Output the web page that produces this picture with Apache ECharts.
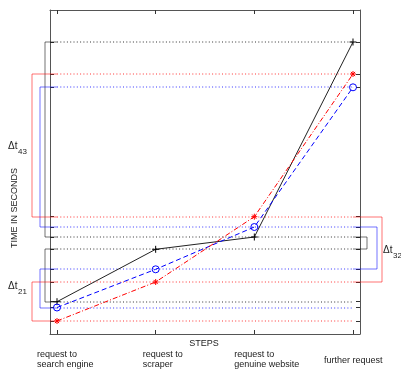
<!DOCTYPE html>
<html>
<head>
<meta charset="utf-8">
<script src="https://cdn.jsdelivr.net/npm/echarts@6/dist/echarts.min.js"></script>
<style>
html, body { margin: 0; padding: 0; background: #fff; }
#chart { width: 401px; height: 369px; }
</style>
</head>
<body>
<div id="chart"></div>
<script>
// steps along the x axis
const steps = ['request to\nsearch engine', 'request to\nscraper', 'request to\ngenuine website', 'further request'];
const stepPos = [1, 2, 3, 4];
// time at each step (no scale on the plot, read as relative height)
const blackTimes = [32.3, 84.7, 97, 292];
const blueTimes = [26.5, 64.7, 107, 246.7];
const redTimes = [13, 52, 117.3, 260];
// brackets: [from step index, to step index, side 0=left 1=right, subscript]
const brackets = [[3, 2, 0, '43'], [1, 0, 0, '21'], [2, 1, 1, '32']];

const times = [blackTimes, blueTimes, redTimes];
const colors = ['#000000', '#0000ff', '#ff0000'];
const leftOff = [5, 10, 18];
const rightOff = [7, 17, 22];
const font = 'Liberation Sans, Arial, sans-serif';

let guides = [];
times.forEach((t, s) => {
    t.forEach((v, i) => guides.push([0, s, i, 0, 0]));
    brackets.forEach(b => guides.push([1, s, b[0], b[1], b[2]]));
});
let allTimes = [].concat(blackTimes, blueTimes, redTimes);

function renderGuide(params, api) {
    let kind = api.value(0), s = api.value(1), a = api.value(2), b = api.value(3), side = api.value(4);
    let cs = params.coordSys;
    let xa = api.coord([stepPos[0], 0])[0];
    let xb = api.coord([stepPos[3], 0])[0];
    if (kind === 0) {
        let y = Math.round(api.coord([1, times[s][a]])[1]);
        return {
            type: 'line',
            shape: { x1: xa, y1: y, x2: xb, y2: y },
            style: { stroke: colors[s], lineWidth: 1, lineDash: [1, 2.3], opacity: 0.8 }
        };
    }
    let y1 = Math.round(api.coord([1, times[s][a]])[1]);
    let y2 = Math.round(api.coord([1, times[s][b]])[1]);
    let x0 = side === 0 ? xa : xb;
    let bx = side === 0 ? cs.x - leftOff[s] : cs.x + cs.width + rightOff[s];
    return {
        type: 'polyline',
        shape: { points: [[x0, y1], [bx, y1], [bx, y2], [x0, y2]] },
        style: { stroke: colors[s], lineWidth: 1, fill: null, opacity: 0.55 }
    };
}

let chart = echarts.init(document.getElementById('chart'));

let frameAxis = {
    type: 'value',
    min: 0.929,
    max: 4.071,
    axisLine: { show: true, onZero: false, lineStyle: { color: '#555', width: 1 } },
    axisTick: { show: true, inside: true, length: 4, customValues: stepPos, lineStyle: { color: '#333' } },
    axisLabel: { show: false },
    splitLine: { show: false }
};
let timeAxis = {
    type: 'value',
    min: 0,
    max: 324,
    axisLine: { show: true, onZero: false, lineStyle: { color: '#555', width: 1 } },
    axisTick: { show: true, inside: true, length: 4, customValues: allTimes, lineStyle: { color: '#333' } },
    axisLabel: { show: false },
    splitLine: { show: false }
};

let option = {
    animation: false,
    backgroundColor: '#fff',
    grid: { left: 50, right: 41, top: 10, bottom: 35 },
    xAxis: [
        Object.assign({ position: 'bottom' }, frameAxis),
        Object.assign({ position: 'top' }, frameAxis)
    ],
    yAxis: [
        Object.assign({ position: 'left' }, timeAxis),
        Object.assign({ position: 'right' }, timeAxis)
    ],
    series: [
        {
            type: 'custom',
            renderItem: renderGuide,
            clip: false,
            silent: true,
            z: 1,
            dimensions: ['kind', 's', 'a', 'b', 'side'],
            encode: { x: 2, y: 3 },
            data: guides
        },
        {
            name: 'black',
            type: 'line',
            z: 3,
            data: stepPos.map((x, i) => [x, blackTimes[i]]),
            symbol: 'path://M5,0L5,10M0,5L10,5',
            symbolSize: 7,
            lineStyle: { color: '#222', width: 1 },
            itemStyle: { color: 'none', borderColor: '#000', borderWidth: 1 }
        },
        {
            name: 'blue',
            type: 'line',
            z: 3,
            data: stepPos.map((x, i) => [x, blueTimes[i]]),
            symbol: 'circle',
            symbolSize: 7,
            lineStyle: { color: '#0000ff', width: 1, type: [5, 3] },
            itemStyle: { color: 'none', borderColor: '#0000ff', borderWidth: 1 }
        },
        {
            name: 'red',
            type: 'line',
            z: 3,
            data: stepPos.map((x, i) => [x, redTimes[i]]),
            symbol: 'path://M5,0L5,10M0,5L10,5M1.5,1.5L8.5,8.5M8.5,1.5L1.5,8.5',
            symbolSize: 6,
            lineStyle: { color: '#ff0000', width: 1, type: [5, 2, 1, 2] },
            itemStyle: { color: 'none', borderColor: '#ff0000', borderWidth: 1 }
        }
    ]
};
chart.setOption(option);

// texts placed around the axes
let labelShift = [-20, -13, -20, -29];
let texts = steps.map((s, i) => ({
    type: 'text',
    x: chart.convertToPixel({ xAxisIndex: 0 }, stepPos[i]) + labelShift[i],
    y: s.indexOf('\n') >= 0 ? 350 : 356,
    style: { text: s, font: '9px ' + font, fill: '#222', lineHeight: 10 }
}));
texts.push({
    type: 'text', x: 204, y: 344,
    style: { text: 'STEPS', font: '9px ' + font, fill: '#222', align: 'center', verticalAlign: 'middle' }
});
texts.push({
    type: 'text', x: 15, y: 208, rotation: Math.PI / 2,
    style: { text: 'TIME IN SECONDS', font: '9px ' + font, fill: '#222', align: 'center', verticalAlign: 'middle' }
});
let deltaPos = [[8, 146], [8, 286], [383, 250]];
brackets.forEach((b, i) => {
    texts.push({
        type: 'text', x: deltaPos[i][0], y: deltaPos[i][1],
        style: { text: '\u0394t', font: '10px ' + font, fill: '#222', verticalAlign: 'middle' }
    });
    texts.push({
        type: 'text', x: deltaPos[i][0] + 10, y: deltaPos[i][1] + 6,
        style: { text: b[3], font: '8px ' + font, fill: '#222', verticalAlign: 'middle' }
    });
});
chart.setOption({ graphic: texts });
</script>
</body>
</html>
